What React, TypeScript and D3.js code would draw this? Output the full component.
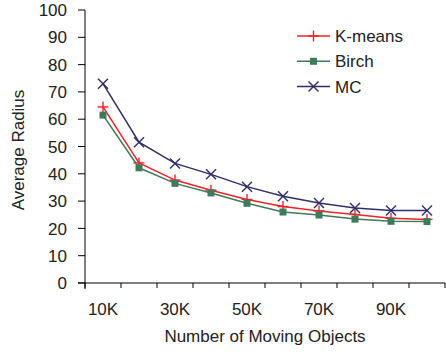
import React from "react";
import * as d3 from "d3";

const categories = ["10K", "20K", "30K", "40K", "50K", "60K", "70K", "80K", "90K", "100K"];
const shownTicks = ["10K", "30K", "50K", "70K", "90K"];
const yTicks = [0, 10, 20, 30, 40, 50, 60, 70, 80, 90, 100];
const kmeans = [64.5, 44, 37.7, 34, 30.6, 28, 26.4, 25.1, 23.7, 23.3];
const birch = [61.5, 42.2, 36.5, 33, 29.2, 26, 24.9, 23.4, 22.6, 22.5];
const mc = [73, 51.6, 43.8, 39.8, 35.3, 31.8, 29.3, 27.5, 26.6, 26.6];

const W = 446;
const H = 358;
const FONT = "Liberation Sans, Arial, sans-serif";
const FS = 17;

const series = [
  { name: "K-means", values: kmeans, color: "#f5222a", marker: "plus" },
  { name: "Birch", values: birch, color: "#3f7a5a", marker: "square" },
  { name: "MC", values: mc, color: "#2e2f68", marker: "cross" },
];

function Marker({ type, x, y, color }: { type: string; x: number; y: number; color: string }) {
  if (type === "plus") {
    return (
      <g stroke={color} strokeWidth={1.4}>
        <line x1={x - 5.5} x2={x + 5.5} y1={y} y2={y} />
        <line x1={x} x2={x} y1={y - 5.5} y2={y + 5.5} />
      </g>
    );
  }
  if (type === "square") {
    return <rect x={x - 3.5} y={y - 3.5} width={7} height={7} fill={color} />;
  }
  return (
    <g stroke={color} strokeWidth={1.4}>
      <line x1={x - 5} x2={x + 5} y1={y - 5} y2={y + 5} />
      <line x1={x - 5} x2={x + 5} y1={y + 5} y2={y - 5} />
    </g>
  );
}

export default function App() {
  const x = d3.scaleBand<string>().domain(categories).range([85, 445]);
  const y = d3.scaleLinear().domain([0, 100]).range([283, 10]);
  const cx = (c: string) => (x(c) as number) + x.bandwidth() / 2;
  const line = d3
    .line<number>()
    .x((_, i) => cx(categories[i]))
    .y((v) => y(v));

  const boundaries = categories.map((c) => x(c) as number).concat([x.range()[1]]);

  return (
    <svg
      width={W}
      height={H}
      style={{ position: "absolute", left: 0, top: 0, background: "#fff" }}
      fontFamily={FONT}
    >
      {/* y axis */}
      <line x1={85} x2={85} y1={y(100)} y2={y(0) + 6} stroke="#000" strokeWidth={1} />
      {yTicks.map((t) => (
        <g key={t}>
          <line x1={78} x2={85} y1={y(t)} y2={y(t)} stroke="#000" />
          <text x={67} y={y(t)} dy="0.36em" textAnchor="end" fontSize={FS} fill="#222">
            {t}
          </text>
        </g>
      ))}
      {/* x axis */}
      <line x1={78} x2={445} y1={y(0)} y2={y(0)} stroke="#000" />
      {boundaries.map((b, i) => (
        <line key={i} x1={b} x2={b} y1={y(0)} y2={y(0) + 5} stroke="#000" />
      ))}
      {shownTicks.map((c) => (
        <text key={c} x={cx(c)} y={314.5} textAnchor="middle" fontSize={FS} fill="#222">
          {c}
        </text>
      ))}
      <text x={265} y={342} textAnchor="middle" fontSize={FS} fill="#222">
        Number of Moving Objects
      </text>
      <text
        transform={`translate(24,150) rotate(-90)`}
        textAnchor="middle"
        fontSize={FS}
        fill="#222"
      >
        Average Radius
      </text>

      {/* series */}
      {series.map((s) => (
        <g key={s.name}>
          <path d={line(s.values) || ""} fill="none" stroke={s.color} strokeWidth={1.5} />
          {s.values.map((v, i) => (
            <Marker key={i} type={s.marker} x={cx(categories[i])} y={y(v)} color={s.color} />
          ))}
        </g>
      ))}

      {/* legend */}
      {series.map((s, i) => {
        const ly = 36 + i * 25.3;
        return (
          <g key={s.name}>
            <line x1={297} x2={330} y1={ly} y2={ly} stroke={s.color} strokeWidth={1.5} />
            <Marker type={s.marker} x={313.5} y={ly} color={s.color} />
            <text x={335} y={ly} dy="0.36em" fontSize={FS} fill="#222">
              {s.name}
            </text>
          </g>
        );
      })}
    </svg>
  );
}
